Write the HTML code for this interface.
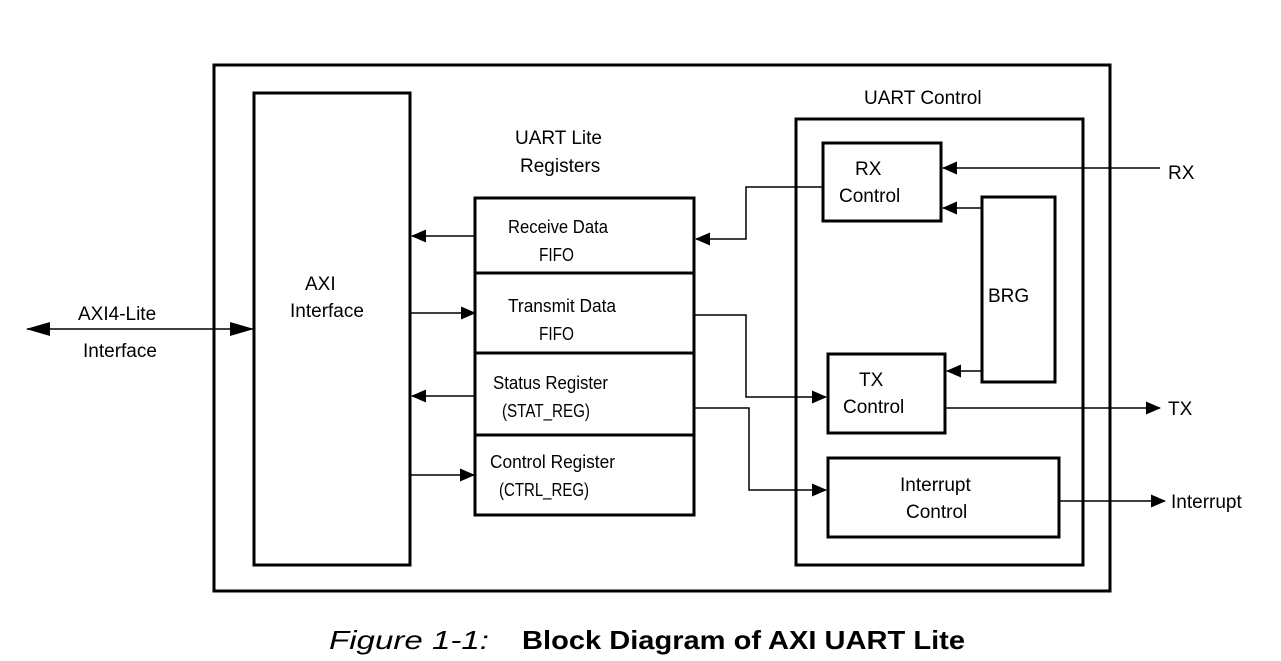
<!DOCTYPE html>
<html><head><meta charset="utf-8"><style>
html,body{margin:0;padding:0;background:#fff;}
svg{display:block;}
text{font-family:"Liberation Sans",sans-serif;fill:#000;}
.t{font-size:19px;}
.r{font-size:18px;}
</style></head><body>
<svg width="1281" height="661" viewBox="0 0 1281 661" xmlns="http://www.w3.org/2000/svg">
<defs>
<marker id="a" markerWidth="15" markerHeight="13" refX="14" refY="6.5" orient="auto" markerUnits="userSpaceOnUse">
<path d="M0,0 L15,6.5 L0,13 z" fill="#000"/></marker>
<marker id="b" markerWidth="24" markerHeight="14" refX="23" refY="7" orient="auto-start-reverse" markerUnits="userSpaceOnUse">
<path d="M0,0 L24,7 L0,14 z" fill="#000"/></marker>
</defs>
<g fill="none" stroke="#000" stroke-width="3">
<rect x="214" y="65" width="896" height="526"/>
<rect x="254" y="93" width="156" height="472"/>
<rect x="475" y="198" width="219" height="317"/>
<line x1="475" y1="273" x2="694" y2="273"/>
<line x1="475" y1="353" x2="694" y2="353"/>
<line x1="475" y1="435" x2="694" y2="435"/>
<rect x="796" y="119" width="287" height="446"/>
<rect x="823" y="143" width="118" height="78"/>
<rect x="982" y="197" width="73" height="185"/>
<rect x="828" y="354" width="117" height="79"/>
<rect x="828" y="458" width="231" height="79"/>
</g>
<g fill="none" stroke="#000" stroke-width="1.5">
<line x1="27" y1="329" x2="253" y2="329" marker-start="url(#b)" marker-end="url(#b)"/>
<line x1="475" y1="236" x2="412" y2="236" marker-end="url(#a)"/>
<line x1="410" y1="313" x2="475" y2="313" marker-end="url(#a)"/>
<line x1="475" y1="396" x2="412" y2="396" marker-end="url(#a)"/>
<line x1="410" y1="475" x2="474" y2="475" marker-end="url(#a)"/>
<polyline points="823,187 746,187 746,239 696,239" marker-end="url(#a)"/>
<polyline points="694,315 746,315 746,397 826,397" marker-end="url(#a)"/>
<polyline points="694,408 749,408 749,490 826,490" marker-end="url(#a)"/>
<line x1="1160" y1="168" x2="943" y2="168" marker-end="url(#a)"/>
<line x1="982" y1="208" x2="943" y2="208" marker-end="url(#a)"/>
<line x1="982" y1="371" x2="947" y2="371" marker-end="url(#a)"/>
<line x1="945" y1="408" x2="1160" y2="408" marker-end="url(#a)"/>
<line x1="1059" y1="501" x2="1165" y2="501" marker-end="url(#a)"/>
</g>
<text class="t" x="78" y="320">AXI4-Lite</text>
<text class="t" x="83" y="357">Interface</text>
<text class="t" x="305" y="290">AXI</text>
<text class="t" x="290" y="317">Interface</text>
<text class="t" x="515" y="144">UART Lite</text>
<text class="t" x="520" y="172">Registers</text>
<text class="r" x="508" y="233" textLength="100" lengthAdjust="spacingAndGlyphs">Receive Data</text>
<text class="r" x="539" y="261" textLength="35" lengthAdjust="spacingAndGlyphs">FIFO</text>
<text class="r" x="508" y="312" textLength="108" lengthAdjust="spacingAndGlyphs">Transmit Data</text>
<text class="r" x="539" y="340" textLength="35" lengthAdjust="spacingAndGlyphs">FIFO</text>
<text class="r" x="493" y="389" textLength="115" lengthAdjust="spacingAndGlyphs">Status Register</text>
<text class="r" x="502" y="417" textLength="88" lengthAdjust="spacingAndGlyphs">(STAT_REG)</text>
<text class="r" x="490" y="468" textLength="125" lengthAdjust="spacingAndGlyphs">Control Register</text>
<text class="r" x="499" y="496" textLength="90" lengthAdjust="spacingAndGlyphs">(CTRL_REG)</text>
<text class="t" x="864" y="104">UART Control</text>
<text class="t" x="855" y="175">RX</text>
<text class="t" x="839" y="202">Control</text>
<text class="t" x="988" y="302">BRG</text>
<text class="t" x="859" y="386">TX</text>
<text class="t" x="843" y="413">Control</text>
<text class="t" x="900" y="491">Interrupt</text>
<text class="t" x="906" y="518">Control</text>
<text class="t" x="1168" y="179">RX</text>
<text class="t" x="1168" y="415">TX</text>
<text class="t" x="1171" y="508">Interrupt</text>
<text x="329" y="649" style="font-size:26px;font-style:italic" textLength="160" lengthAdjust="spacingAndGlyphs">Figure 1-1:</text>
<text x="522" y="649" style="font-size:26px;font-weight:bold" textLength="443" lengthAdjust="spacingAndGlyphs">Block Diagram of AXI UART Lite</text>
</svg>
</body></html>
